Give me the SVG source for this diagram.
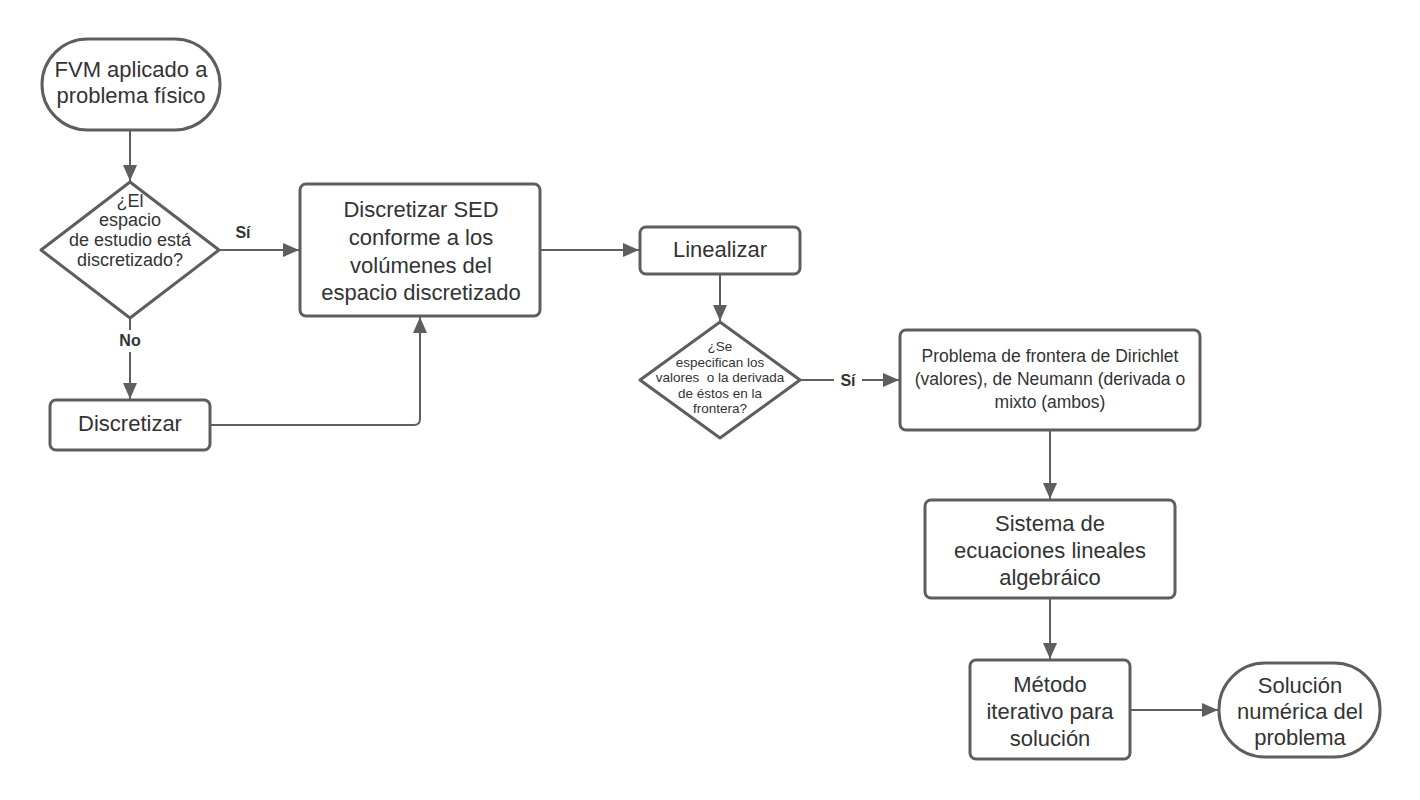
<svg xmlns="http://www.w3.org/2000/svg" width="1420" height="800" viewBox="0 0 1420 800">
<defs>
<marker id="ah" markerUnits="userSpaceOnUse" markerWidth="18" markerHeight="14" refX="16" refY="7" orient="auto">
<path d="M0,0 L16,7 L0,14 Z" fill="#5e5e5e"/>
</marker>
<style>
.shape{fill:#fff;stroke:#5e5e5e;stroke-width:3}
.conn{fill:none;stroke:#5e5e5e;stroke-width:2}
.t{font-family:"Liberation Sans",Arial,sans-serif;fill:#333;text-anchor:middle}
.big{font-size:22px}
.mid{font-size:17.5px}
.dm{font-size:18px}
.sm{font-size:13.5px}
.lbl{font-family:"Liberation Sans",Arial,sans-serif;fill:#333;font-weight:bold;font-size:16px;text-anchor:middle}
</style>
</defs>
<rect width="1420" height="800" fill="#fff"/>
<g id="connectors">
<path class="conn" d="M130,130 V181" marker-end="url(#ah)"/>
<path class="conn" d="M219,250 H299" marker-end="url(#ah)"/>
<path class="conn" d="M130,318 V330 M130,352 V399" marker-end="url(#ah)"/>
<path class="conn" d="M210,425 H414 Q420,425 420,419 V317" marker-end="url(#ah)"/>
<path class="conn" d="M540,250 H639" marker-end="url(#ah)"/>
<path class="conn" d="M720,274 V321" marker-end="url(#ah)"/>
<path class="conn" d="M800,380 H834 M862,380 H899" marker-end="url(#ah)"/>
<path class="conn" d="M1050,430 V499" marker-end="url(#ah)"/>
<path class="conn" d="M1050,598 V659" marker-end="url(#ah)"/>
<path class="conn" d="M1130,710 H1218" marker-end="url(#ah)"/>
<text class="lbl" x="243" y="238">Sí</text>
<text class="lbl" x="130" y="346">No</text>
<text class="lbl" x="848" y="386">Sí</text>
</g>
<g id="start">
<rect class="shape" x="42" y="39" width="178" height="91" rx="45.5"/>
<text class="t big" x="131" y="77">FVM aplicado a</text>
<text class="t big" x="131" y="103">problema físico</text>
</g>
<g id="decision1">
<path class="shape" d="M130,182 L219,250 L130,318 L41,250 Z" stroke-linejoin="round"/>
<text class="t dm" x="130" y="207">¿El</text>
<text class="t dm" x="130" y="226">espacio</text>
<text class="t dm" x="130" y="246">de estudio está</text>
<text class="t dm" x="130" y="266">discretizado?</text>
</g>
<g id="discretizar-sed">
<rect class="shape" x="300" y="184" width="240" height="132" rx="6"/>
<text class="t big" x="421" y="217">Discretizar SED</text>
<text class="t big" x="421" y="245">conforme a los</text>
<text class="t big" x="421" y="273">volúmenes del</text>
<text class="t big" x="421" y="300">espacio discretizado</text>
</g>
<g id="discretizar">
<rect class="shape" x="50" y="400" width="160" height="50" rx="6"/>
<text class="t big" x="130" y="431">Discretizar</text>
</g>
<g id="linealizar">
<rect class="shape" x="640" y="227" width="160" height="47" rx="6"/>
<text class="t big" x="720" y="257">Linealizar</text>
</g>
<g id="decision2">
<path class="shape" d="M720,322 L800,380 L720,438 L640,380 Z" stroke-linejoin="round"/>
<text class="t sm" x="720" y="351">¿Se</text>
<text class="t sm" x="720" y="366.5">especifican los</text>
<text class="t sm" x="720" y="382">valores&#160; o la derivada</text>
<text class="t sm" x="720" y="397.5">de éstos en la</text>
<text class="t sm" x="720" y="413">frontera?</text>
</g>
<g id="problema-frontera">
<rect class="shape" x="900" y="330" width="300" height="100" rx="6"/>
<text class="t mid" x="1050" y="362">Problema de frontera de Dirichlet</text>
<text class="t mid" x="1050" y="385">(valores), de Neumann (derivada o</text>
<text class="t mid" x="1050" y="408">mixto (ambos)</text>
</g>
<g id="sistema">
<rect class="shape" x="925" y="500" width="250" height="98" rx="6"/>
<text class="t big" x="1050" y="531">Sistema de</text>
<text class="t big" x="1050" y="558">ecuaciones lineales</text>
<text class="t big" x="1050" y="585">algebráico</text>
</g>
<g id="metodo">
<rect class="shape" x="970" y="660" width="160" height="99" rx="6"/>
<text class="t big" x="1050" y="692">Método</text>
<text class="t big" x="1050" y="719">iterativo para</text>
<text class="t big" x="1050" y="746">solución</text>
</g>
<g id="solucion">
<rect class="shape" x="1219" y="663" width="161" height="94" rx="46"/>
<text class="t big" x="1300" y="693">Solución</text>
<text class="t big" x="1300" y="719">numérica del</text>
<text class="t big" x="1300" y="745">problema</text>
</g>
</svg>
